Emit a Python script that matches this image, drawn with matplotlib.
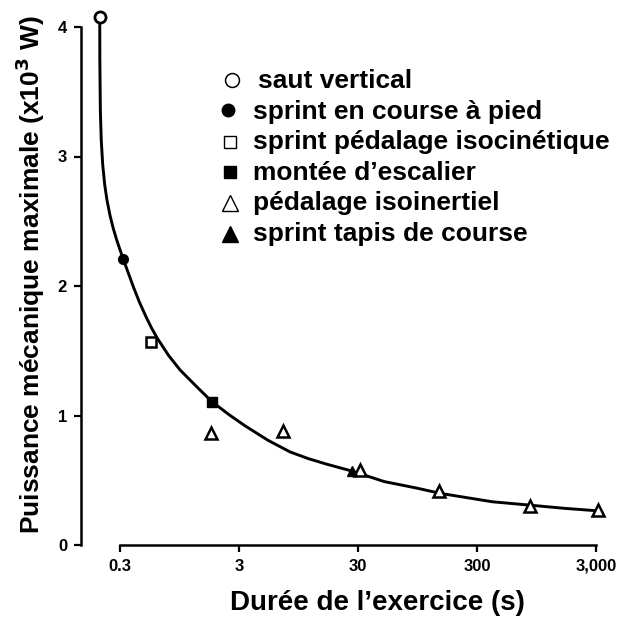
import numpy as np
import matplotlib.pyplot as plt
from matplotlib.ticker import FixedLocator, FixedFormatter, NullLocator

# Data (duration in s, power in x10^3 W)
saut_x, saut_y = [0.2027], [4.075]
course_x, course_y = [0.3195], [2.21]
isocin_x, isocin_y = [0.551], [1.57]
escalier_x, escalier_y = [1.777], [1.107]
isoinert_x = [1.76, 7.06, 31.1, 144.5, 837, 3128]
isoinert_y = [0.867, 0.883, 0.58, 0.417, 0.301, 0.27]
tapis_x, tapis_y = [26.7], [0.574]

# fitted curve, points
curve_x = [0.2027, 0.2031, 0.2051, 0.2087, 0.2148, 0.2233, 0.2331, 0.2469,
           0.2628, 0.2815, 0.3005, 0.3195, 0.3499, 0.389, 0.4365, 0.497,
           0.5522, 0.6161, 0.769, 0.9605, 1.3237, 1.777, 2.476, 3.401,
           5.26, 8.09, 11.48, 16.18, 26.66, 49.7, 92.8, 147, 402, 807,
           1634, 3260]
curve_y = [4.075, 3.745, 3.359, 3.127, 2.934, 2.780, 2.664, 2.548,
           2.448, 2.355, 2.278, 2.208, 2.108, 1.992, 1.876, 1.761,
           1.676, 1.598, 1.463, 1.351, 1.222, 1.107, 1.006, 0.918,
           0.8085, 0.718, 0.667, 0.6255, 0.571, 0.490, 0.440, 0.399, 0.334, 0.309,
           0.283, 0.2625]

x_ticks = [0.3, 3, 30, 300, 3000]
x_ticklabels = ["0.3", "3", "30", "300", "3,000"]
y_ticks = [0, 1, 2, 3, 4]

legend_labels = ["saut vertical", "sprint en course à pied",
                 "sprint pédalage isocinétique", "montée d\u2019escalier",
                 "pédalage isoinertiel", "sprint tapis de course"]

W, H = 621, 622


def px(x, y):
    """pixel position (from top-left) -> figure fraction"""
    return x / W, 1 - y / H


plt.rcParams['font.family'] = ['Liberation Sans', 'DejaVu Sans']

fig = plt.figure(figsize=(W / 100, H / 100), dpi=100)
ax = fig.add_axes([81 / W, (H - 545) / H, (610 - 81) / W, (545 - 14) / H])

ax.plot(curve_x, curve_y, color='black', linewidth=2.1, zorder=2,
        solid_joinstyle='round')

mk = dict(zorder=3, clip_on=False, linestyle='none')
ax.plot(saut_x, saut_y, 'o', ms=8, mfc='white', mec='black', mew=2, **mk)
ax.plot(course_x, course_y, 'o', ms=7, color='black', **mk)
ax.plot(isocin_x, isocin_y, 's', ms=6.5, mfc='white', mec='black', mew=1.8, **mk)
ax.plot(escalier_x, escalier_y, 's', ms=7, color='black', **mk)
ax.plot(isoinert_x, isoinert_y, '^', ms=8, mfc='white', mec='black', mew=1.8, **mk)
ax.plot(tapis_x, tapis_y, '^', ms=7, color='black', **mk)

ax.set_xscale('log')
dec = 119.0
ax.set_xlim(10 ** (np.log10(0.3) - 39 / dec), 10 ** (np.log10(3000) + 14 / dec))
ax.set_ylim(0, 531 / 129.5)

ax.xaxis.set_major_locator(FixedLocator(x_ticks))
ax.xaxis.set_major_formatter(FixedFormatter(x_ticklabels))
ax.xaxis.set_minor_locator(NullLocator())
ax.set_yticks(y_ticks)
ax.set_yticklabels([str(v) for v in y_ticks])

for side in ['top', 'right']:
    ax.spines[side].set_visible(False)
ax.spines['left'].set_bounds(0, 4)
ax.spines['bottom'].set_bounds(0.3, 3000)
for side in ['left', 'bottom']:
    ax.spines[side].set_linewidth(1.8)
    ax.spines[side].set_capstyle('projecting')

ax.tick_params(axis='both', direction='out', length=5, width=1.6,
               labelsize=12, pad=5)
for lab in ax.get_xticklabels() + ax.get_yticklabels():
    lab.set_fontweight('bold')

# axis titles
fx, fy = px(30, 275)
fig.text(fx, fy, "Puissance mécanique maximale (x10$^\\mathbf{3}$ W)",
         rotation=90, ha='center', va='center', fontsize=19, fontweight='bold')
fx, fy = px(377, 603)
fig.text(fx, fy, "Durée de l\u2019exercice (s)", ha='center', va='center',
         fontsize=20, fontweight='bold')

# legend drawn by hand, as in the original figure
marker_styles = [
    dict(marker='o', ms=10, mfc='white', mec='black', mew=1.1),
    dict(marker='o', ms=9, mfc='black', mec='black'),
    dict(marker='s', ms=8, mfc='white', mec='black', mew=1.0),
    dict(marker='s', ms=9, mfc='black', mec='black'),
    dict(marker='^', ms=11, mfc='white', mec='black', mew=1.0),
    dict(marker='^', ms=12, mfc='black', mec='black'),
]
marker_x = [232, 228, 230, 230, 230, 230]
marker_y = [80, 110, 142, 172, 203, 234]
text_x = [258, 253, 253, 253, 253, 253]
text_base = [88, 118.5, 149, 179.5, 210, 240.5]

for i, lab in enumerate(legend_labels):
    mx, my = px(marker_x[i], marker_y[i])
    ax.plot([mx], [my], transform=fig.transFigure, clip_on=False,
            linestyle='none', **marker_styles[i])
    tx, ty = px(text_x[i], text_base[i])
    fig.text(tx, ty, lab, ha='left', va='baseline', fontsize=19,
             fontweight='bold')

fig.savefig("out.png", dpi=100)
